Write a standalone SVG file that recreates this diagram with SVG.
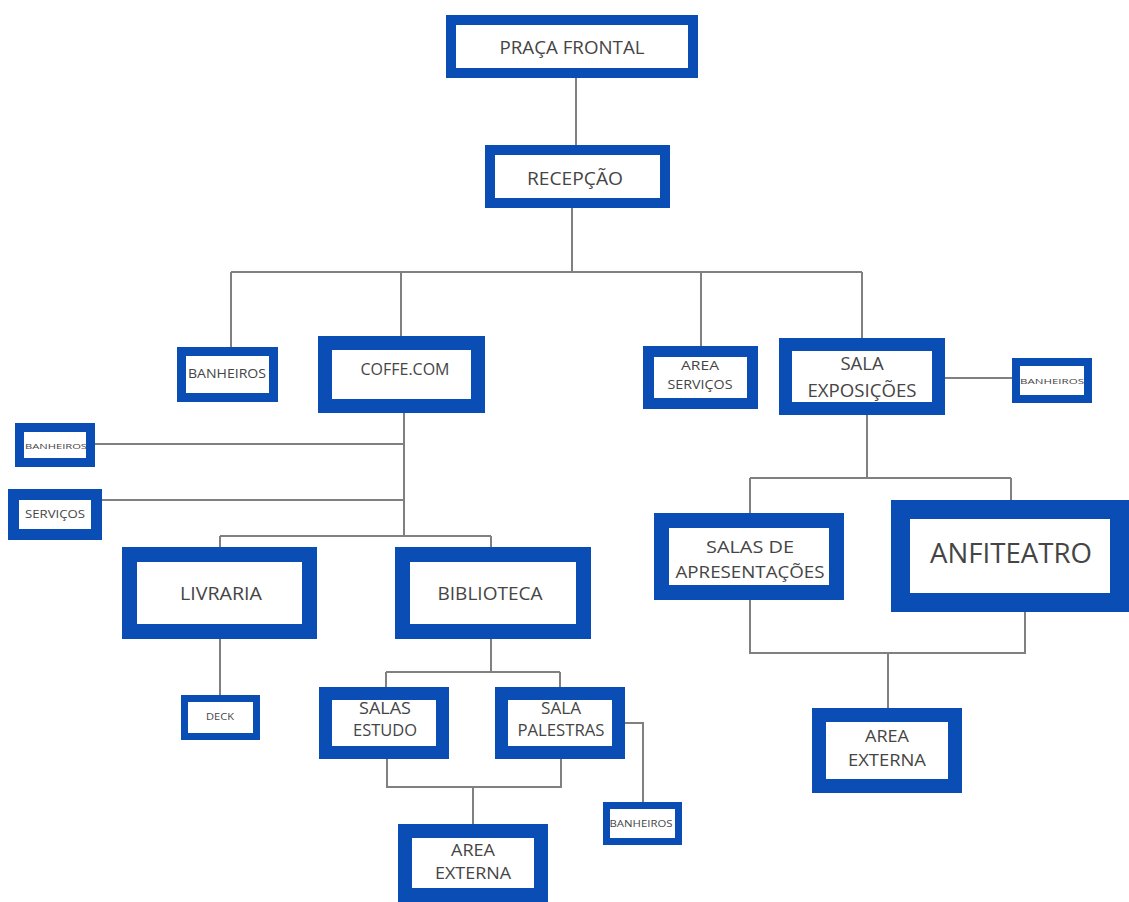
<svg xmlns="http://www.w3.org/2000/svg" width="1129" height="902" viewBox="0 0 1129 902">
<style>
.box{fill:#ffffff;stroke:#0a4db4}
.t{font-family:"Open Sans","Noto Sans","Liberation Sans",sans-serif;fill:#454545;text-anchor:middle;dominant-baseline:central}
.c{fill:none;stroke:#808080;stroke-width:2}
</style>
<rect width="1129" height="902" fill="#ffffff"/>
<g id="connectors" class="c">
<path d="M576,78V145"/>
<path d="M572,208V272"/>
<path d="M231,272H862"/>
<path d="M231,272V347"/>
<path d="M401,272V336"/>
<path d="M701,272V346"/>
<path d="M862,272V338"/>
<path d="M945,378H1012"/>
<path d="M867,415V478"/>
<path d="M750,478H1011"/>
<path d="M750,478V513"/>
<path d="M1011,478V500"/>
<path d="M750,600V653H1025V612"/>
<path d="M888,653V708"/>
<path d="M404,413V536"/>
<path d="M95,444H404"/>
<path d="M102,500H404"/>
<path d="M220,536H491"/>
<path d="M220,536V547"/>
<path d="M491,536V547"/>
<path d="M220,639V695"/>
<path d="M491,639V672"/>
<path d="M386,672H560"/>
<path d="M386,672V687"/>
<path d="M560,672V687"/>
<path d="M387,759V787H561V759"/>
<path d="M473,787V824"/>
<path d="M625,723H643V802"/>
</g>
<g id="praca-frontal">
<rect class="box" x="451" y="20" width="242" height="53" stroke-width="10"/>
<text class="t" x="572" y="47" font-size="18" textLength="145" lengthAdjust="spacingAndGlyphs">PRAÇA FRONTAL</text>
</g>
<g id="recepcao">
<rect class="box" x="490" y="150" width="175" height="53" stroke-width="10"/>
<text class="t" x="575" y="178" font-size="18" textLength="96" lengthAdjust="spacingAndGlyphs">RECEPÇÃO</text>
</g>
<g id="banheiros-1">
<rect class="box" x="181.5" y="351.5" width="92" height="46" stroke-width="9"/>
<text class="t" x="227" y="373" font-size="12" textLength="78" lengthAdjust="spacingAndGlyphs">BANHEIROS</text>
</g>
<g id="coffe-com">
<rect class="box" x="325" y="343" width="153" height="63" stroke-width="14"/>
<text class="t" x="405" y="369" font-size="16" textLength="89" lengthAdjust="spacingAndGlyphs">COFFE.COM</text>
</g>
<g id="area-servicos">
<rect class="box" x="648.5" y="351.5" width="104" height="52" stroke-width="11"/>
<text class="t" x="700" y="365" font-size="13" textLength="38" lengthAdjust="spacingAndGlyphs">AREA</text>
<text class="t" x="700" y="384" font-size="13" textLength="65" lengthAdjust="spacingAndGlyphs">SERVIÇOS</text>
</g>
<g id="sala-exposicoes">
<rect class="box" x="785.5" y="344.5" width="153" height="64" stroke-width="13"/>
<text class="t" x="862" y="362" font-size="18.5">SALA</text>
<text class="t" x="862" y="389" font-size="18.5" textLength="109" lengthAdjust="spacingAndGlyphs">EXPOSIÇÕES</text>
</g>
<g id="banheiros-2">
<rect class="box" x="1016" y="362" width="72" height="37" stroke-width="8"/>
<text class="t" x="1052" y="380" font-size="8" textLength="64" lengthAdjust="spacingAndGlyphs">BANHEIROS</text>
</g>
<g id="banheiros-3">
<rect class="box" x="19.5" y="427.5" width="71" height="35" stroke-width="9"/>
<text class="t" x="56" y="445" font-size="8" textLength="62" lengthAdjust="spacingAndGlyphs">BANHEIROS</text>
</g>
<g id="servicos">
<rect class="box" x="13.5" y="494.5" width="83" height="40" stroke-width="11"/>
<text class="t" x="55" y="513" font-size="11" textLength="60" lengthAdjust="spacingAndGlyphs">SERVIÇOS</text>
</g>
<g id="salas-apresentacoes">
<rect class="box" x="661.5" y="520.5" width="175" height="72" stroke-width="15"/>
<text class="t" x="750" y="546" font-size="17" textLength="88" lengthAdjust="spacingAndGlyphs">SALAS DE</text>
<text class="t" x="750" y="571" font-size="17" textLength="149" lengthAdjust="spacingAndGlyphs">APRESENTAÇÕES</text>
</g>
<g id="anfiteatro">
<rect class="box" x="900.5" y="509.5" width="219" height="93" stroke-width="19"/>
<text class="t" x="1011" y="552" font-size="27" textLength="162" lengthAdjust="spacingAndGlyphs">ANFITEATRO</text>
</g>
<g id="livraria">
<rect class="box" x="129.5" y="554.5" width="180" height="77" stroke-width="15"/>
<text class="t" x="221" y="593" font-size="18" textLength="82" lengthAdjust="spacingAndGlyphs">LIVRARIA</text>
</g>
<g id="biblioteca">
<rect class="box" x="402.5" y="554.5" width="181" height="77" stroke-width="15"/>
<text class="t" x="490" y="593" font-size="18" textLength="105" lengthAdjust="spacingAndGlyphs">BIBLIOTECA</text>
</g>
<g id="deck">
<rect class="box" x="184.5" y="698.5" width="72" height="38" stroke-width="7"/>
<text class="t" x="220" y="716" font-size="8.5" textLength="28" lengthAdjust="spacingAndGlyphs">DECK</text>
</g>
<g id="salas-estudo">
<rect class="box" x="325.5" y="693.5" width="117" height="59" stroke-width="13"/>
<text class="t" x="385" y="708" font-size="16" textLength="52" lengthAdjust="spacingAndGlyphs">SALAS</text>
<text class="t" x="385" y="730" font-size="16" textLength="64" lengthAdjust="spacingAndGlyphs">ESTUDO</text>
</g>
<g id="sala-palestras">
<rect class="box" x="501.5" y="693.5" width="117" height="59" stroke-width="13"/>
<text class="t" x="561" y="708" font-size="16" textLength="40" lengthAdjust="spacingAndGlyphs">SALA</text>
<text class="t" x="561" y="730" font-size="16" textLength="87" lengthAdjust="spacingAndGlyphs">PALESTRAS</text>
</g>
<g id="area-externa-1">
<rect class="box" x="405" y="831" width="136" height="64" stroke-width="14"/>
<text class="t" x="473" y="850" font-size="16" textLength="44" lengthAdjust="spacingAndGlyphs">AREA</text>
<text class="t" x="473" y="873" font-size="16" textLength="76" lengthAdjust="spacingAndGlyphs">EXTERNA</text>
</g>
<g id="banheiros-4">
<rect class="box" x="606.5" y="805.5" width="72" height="36" stroke-width="7"/>
<text class="t" x="641" y="823" font-size="9" textLength="63" lengthAdjust="spacingAndGlyphs">BANHEIROS</text>
</g>
<g id="area-externa-2">
<rect class="box" x="819" y="715" width="136" height="71" stroke-width="14"/>
<text class="t" x="887" y="736" font-size="16" textLength="44" lengthAdjust="spacingAndGlyphs">AREA</text>
<text class="t" x="887" y="760" font-size="16" textLength="78" lengthAdjust="spacingAndGlyphs">EXTERNA</text>
</g>
</svg>
